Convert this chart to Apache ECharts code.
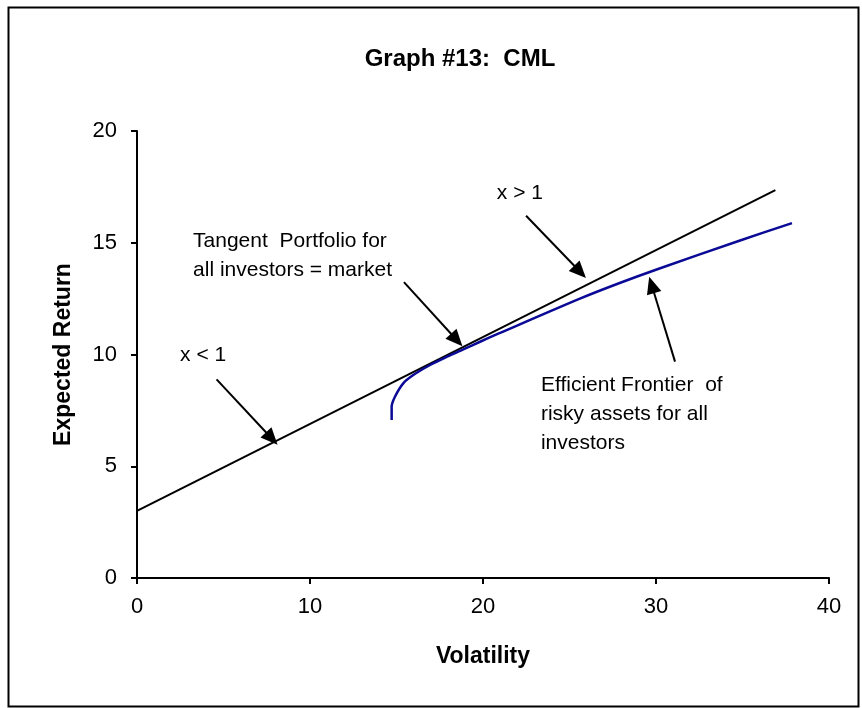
<!DOCTYPE html>
<html>
<head>
<meta charset="utf-8">
<script src="https://cdn.jsdelivr.net/npm/echarts@6/dist/echarts.min.js"></script>
<style>
html, body { margin: 0; padding: 0; background: #fff; }
#chart { width: 862px; height: 708px; }
</style>
</head>
<body>
<div id="chart"></div>
<script>
// capital market line: volatility -> expected return
const cmlVol = [0, 36.9];
const cmlRet = [3.0, 17.35];

// efficient frontier of risky assets
const frontVol = [14.72, 14.72, 14.91, 15.39, 15.97, 16.94, 17.92, 18.86, 19.83, 20.88, 25.6, 27.9, 30.2, 34.86, 37.86];
const frontRet = [7.07, 7.66, 8.11, 8.71, 9.08, 9.53, 9.90, 10.23, 10.57, 10.93, 12.5, 13.2, 13.85, 15.1, 15.88];

// axis ticks
const xTicks = [0, 10, 20, 30, 40];
const yTicks = [0, 5, 10, 15, 20];

// text notes (left edge / middle of block) and arrows
const noteText = ['x < 1', 'x > 1', 'Tangent  Portfolio for\nall investors = market', 'Efficient Frontier  of\nrisky assets for all\ninvestors'];
const noteVol = [2.49, 20.8, 3.24, 23.35];
const noteRet = [9.98, 17.2, 14.43, 7.34];
const arrowFrom = [[4.6, 8.89], [22.49, 16.21], [15.43, 13.24], [31.1, 9.68]];
const arrowTo = [[7.79, 6.24], [25.61, 13.7], [18.48, 10.65], [29.75, 13.11]];

function pairs(xs, ys) {
  return xs.map((x, i) => [x, ys[i]]);
}

let chartDom = document.getElementById('chart');
let myChart = echarts.init(chartDom);
const font = 'Liberation Sans, Arial, sans-serif';

let option = {
  animation: false,
  backgroundColor: '#fff',
  title: {
    text: 'Graph #13:  CML',
    left: 455,
    textAlign: 'center',
    top: 42,
    textStyle: { fontFamily: font, fontSize: 24, fontWeight: 'bold', color: '#000' }
  },
  grid: { left: 137, right: 33, top: 131, bottom: 130 },
  xAxis: {
    type: 'value',
    min: xTicks[0],
    max: xTicks[xTicks.length - 1],
    interval: xTicks[1] - xTicks[0],
    name: 'Volatility',
    nameLocation: 'middle',
    nameGap: 67,
    nameTextStyle: { fontFamily: font, fontSize: 23, fontWeight: 'bold', color: '#000' },
    axisLine: { lineStyle: { color: '#000', width: 2 } },
    axisTick: { show: true, length: 6, lineStyle: { color: '#000', width: 2 } },
    axisLabel: { margin: 18, fontFamily: font, fontSize: 22, color: '#000' },
    splitLine: { show: false }
  },
  yAxis: {
    type: 'value',
    min: yTicks[0],
    max: yTicks[yTicks.length - 1],
    interval: yTicks[1] - yTicks[0],
    name: 'Expected Return',
    nameLocation: 'middle',
    nameGap: 62,
    nameTextStyle: { fontFamily: font, fontSize: 23, fontWeight: 'bold', color: '#000' },
    axisLine: { show: true, lineStyle: { color: '#000', width: 2 } },
    axisTick: { show: true, length: 6, lineStyle: { color: '#000', width: 2 } },
    axisLabel: { margin: 20, fontFamily: font, fontSize: 22, color: '#000' },
    splitLine: { show: false }
  },
  graphic: [
    {
      type: 'rect',
      left: 6, top: 5,
      shape: { width: 850, height: 699 },
      style: { fill: 'none', stroke: '#000', lineWidth: 2 },
      silent: true
    }
  ],
  series: [
    {
      name: 'CML',
      type: 'line',
      data: pairs(cmlVol, cmlRet),
      showSymbol: false,
      lineStyle: { color: '#000', width: 2 }
    },
    {
      name: 'Efficient Frontier',
      type: 'line',
      data: pairs(frontVol, frontRet),
      smooth: 0.3,
      showSymbol: false,
      lineStyle: { color: '#0a0a96', width: 2.5 }
    },
    {
      name: 'notes',
      type: 'scatter',
      data: pairs(noteVol, noteRet),
      symbolSize: 0,
      silent: true,
      itemStyle: { opacity: 1 },
      label: {
        show: true,
        position: 'right',
        distance: 0,
        formatter: p => noteText[p.dataIndex],
        fontFamily: font,
        fontSize: 21,
        lineHeight: 29,
        color: '#000',
        opacity: 1
      },
      markLine: {
        silent: true,
        animation: false,
        symbol: ['none', 'triangle'],
        symbolSize: [15, 17],
        label: { show: false },
        lineStyle: { color: '#000', width: 2, type: 'solid', opacity: 1 },
        data: arrowFrom.map((f, i) => [{ coord: f }, { coord: arrowTo[i] }])
      }
    }
  ]
};
myChart.setOption(option);
</script>
</body>
</html>
